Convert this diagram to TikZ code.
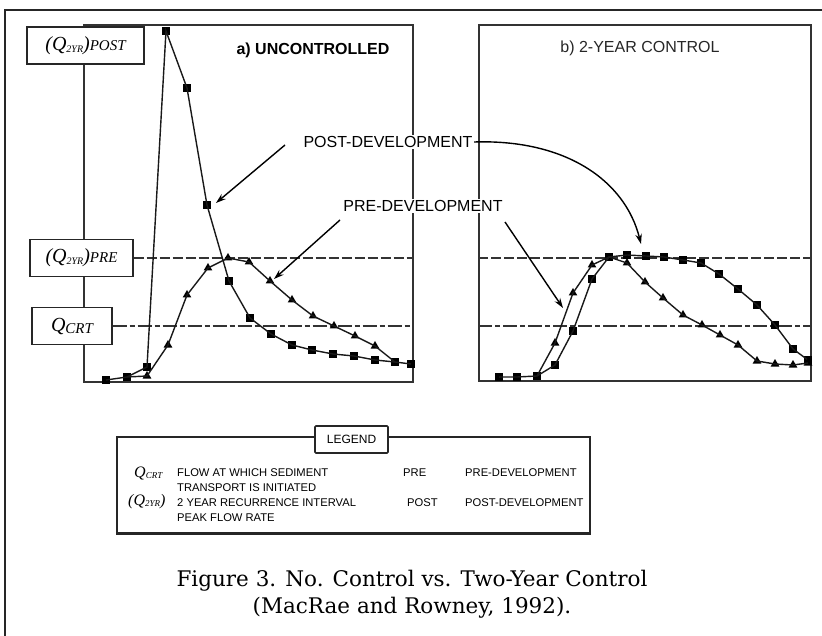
\documentclass[tikz,border=0pt]{standalone}
\usepackage{fontspec}
\setmainfont{Liberation Serif}
\setsansfont{Liberation Sans}
\newfontfamily\capfont{DejaVu Serif}
\usetikzlibrary{shapes.geometric,arrows.meta}
\tikzset{
  panel/.style={draw=black!80, line width=1.3pt, inner sep=0pt},
  qbox/.style={draw=black!85, fill=white, line width=1.3pt, inner sep=0pt},
  curve/.style={line width=1.4pt, black!90},
  sqm/.style={rectangle, fill=black, minimum size=7.5pt, inner sep=0pt},
  trm/.style={regular polygon, regular polygon sides=3, fill=black, minimum size=10pt, inner sep=0pt},
  preline/.style={line width=1.3pt, black!80, dash pattern=on 10pt off 3pt},
  crtline/.style={line width=1.3pt, black!80, dash pattern=on 14pt off 3pt on 5pt off 3pt},
  lab/.style={font=\fontsize{16}{16}\selectfont\sffamily, fill=white, inner sep=1.5pt},
  arr/.style={line width=1.4pt, -{Stealth[length=10pt,width=6.5pt]}},
  legtxt/.style={font=\fontsize{11.2}{11.2}\selectfont\sffamily, anchor=west, inner sep=0pt},
}
\newcommand{\Qbig}[1]{{\fontsize{20}{20}\selectfont\itshape #1}}
\newcommand{\Qsub}[1]{\raisebox{-2pt}{\fontsize{10}{10}\selectfont\itshape #1}}
\newcommand{\Qtail}[1]{{\fontsize{15}{15}\selectfont\itshape #1}}
\newcommand{\Lbig}[1]{{\fontsize{16}{16}\selectfont\itshape #1}}
\newcommand{\Lsub}[1]{\raisebox{-1pt}{\fontsize{9}{9}\selectfont\itshape #1}}
\begin{document}
\begin{tikzpicture}[x=1pt,y=-1pt]
\useasboundingbox (0,0) rectangle (822,636);
% outer frame (top and left only)
\coordinate (ftr) at (822,10);
\coordinate (ftl) at (5,10);
\coordinate (fbl) at (5,636);
\draw[line width=2.6pt, black!85] (ftr) -- (ftl) -- (fbl);

% panels
\node[panel, minimum width=329pt, minimum height=357pt] (pana) at (248.5,203.5) {};
\node[panel, minimum width=332pt, minimum height=356pt] (panb) at (645,203) {};

% level boxes
\node[qbox, minimum width=117pt, minimum height=37pt] (qpost) at (85.5,45.5) {\Qbig{(Q}\Qsub{2YR}\Qbig{)}\Qtail{POST}};
\node[qbox, minimum width=103pt, minimum height=37pt] (qpre) at (81.5,258) {\Qbig{(Q}\Qsub{2YR}\Qbig{)}\Qtail{PRE}};
\node[qbox, minimum width=80pt, minimum height=37pt] (qcrt) at (72,326) {\Qbig{Q}\Qtail{\raisebox{-2pt}{CRT}}};

% horizontal reference lines
\draw[preline] (qpre.east) -- (qpre.east -| pana.east);
\draw[preline] (qpre.east -| panb.west) -- (qpre.east -| panb.east);
\draw[crtline] (qcrt.east) -- (qcrt.east -| pana.east);
\draw[crtline] (qcrt.east -| panb.west) -- (qcrt.east -| panb.east);

% panel a : post-development (squares)
\foreach \x/\y [count=\i] in {106/380,127/377,147/367,166/31,187/88,207/205,229/281,250/318,271/334,292/345,312/350,333/354,354/356,375/360,395/362,411/364}
  \node[sqm] (pa\i) at (\x,\y) {};
\draw[curve] (pa1.center) \foreach \i in {2,...,16} {-- (pa\i.center)};
% panel a : pre-development (triangles)
\foreach \x/\y [count=\i] in {147/376,168/345,187/295,208/268,228/258,249/262,270/281,292/300,313/316,334/326,355/336,375/346}
  \node[trm] (ta\i) at (\x,\y) {};
\draw[curve] (pa2.center) \foreach \i in {1,...,12} {-- (ta\i.center)} -- (pa15.center);

% panel b : post-development (squares)
\foreach \x/\y [count=\i] in {499/377,517/377,537/376,555/365,573/331,592/279,609/257,627/255,646/256,664/257,683/260,701/263,719/274,738/289,757/305,775/325,793/349,808/360}
  \node[sqm] (pb\i) at (\x,\y) {};
\draw[curve] (pb1.center) \foreach \i in {2,...,18} {-- (pb\i.center)};
% panel b : pre-development (triangles)
\foreach \x/\y [count=\i] in {555/343,573/293,592/265,627/263,645/282,663/298,683/315,702/325,720/335,738/345,757/361,775/364,793/365,808/363}
  \node[trm] (tb\i) at (\x,\y) {};
\draw[curve] (pb3.center) -- (tb1.center) -- (tb2.center) -- (tb3.center) -- (pb7.center) \foreach \i in {4,...,14} {-- (tb\i.center)};

% titles
\node[font=\fontsize{16}{16}\selectfont\sffamily\bfseries] (ttla) at (313,50) {a) UNCONTROLLED};
\node[font=\fontsize{16}{16}\selectfont\sffamily, text=black!85] (ttlb) at (640,48) {b) 2-YEAR CONTROL};

% labels and arrows
\node[lab] (postlab) at (388,142) {POST-DEVELOPMENT};
\node[lab] (prelab) at (423,206) {PRE-DEVELOPMENT};
\coordinate (pas) at (285,145);
\coordinate (pat) at (216,203);
\draw[arr] (pas) -- (pat);
\coordinate (pbt) at (641,244);
\draw[arr] (postlab.east) .. controls (565,139) and (625,180) .. (pbt);
\coordinate (ras) at (340,220);
\coordinate (rat) at (274,279);
\draw[arr] (ras) -- (rat);
\coordinate (rbs) at (505,222);
\coordinate (rbt) at (563,308);
\draw[arr] (rbs) -- (rbt);

% legend
\node[draw=black!85, line width=1.3pt, minimum width=473pt, minimum height=96pt, inner sep=0pt] (leg) at (353.5,485) {};
\draw[line width=2.4pt, black!85] (leg.south west) -- (leg.south east);
\node[draw=black!85, fill=white, line width=1.6pt, rounded corners=1pt, minimum width=73pt, minimum height=27pt, inner sep=0pt, font=\fontsize{12}{12}\selectfont\sffamily] (legt) at (351.5,439.5) {LEGEND};
\node[anchor=west, inner sep=0pt] (lq1) at (134,473) {\Lbig{Q}\Lsub{CRT}};
\node[anchor=west, inner sep=0pt] (lq2) at (128,502) {\Lbig{(Q}\Lsub{2YR}\Lbig{)}};
\node[legtxt] (ld1) at (177,473) {FLOW AT WHICH SEDIMENT};
\node[legtxt] (ld2) at (177,488) {TRANSPORT IS INITIATED};
\node[legtxt] (ld3) at (177,503) {2 YEAR RECURRENCE INTERVAL};
\node[legtxt] (ld4) at (177,518) {PEAK FLOW RATE};
\node[legtxt] (la1) at (403,473) {PRE};
\node[legtxt] (la2) at (407,503) {POST};
\node[legtxt] (lb1) at (465,473) {PRE-DEVELOPMENT};
\node[legtxt] (lb2) at (465,503) {POST-DEVELOPMENT};

% caption
\node[font=\capfont\fontsize{21.5}{27}\selectfont, align=center, text=black] (cap) at (412,594) {Figure 3. No. Control vs. Two-Year Control\\(MacRae and Rowney, 1992).};
\end{tikzpicture}
\end{document}
